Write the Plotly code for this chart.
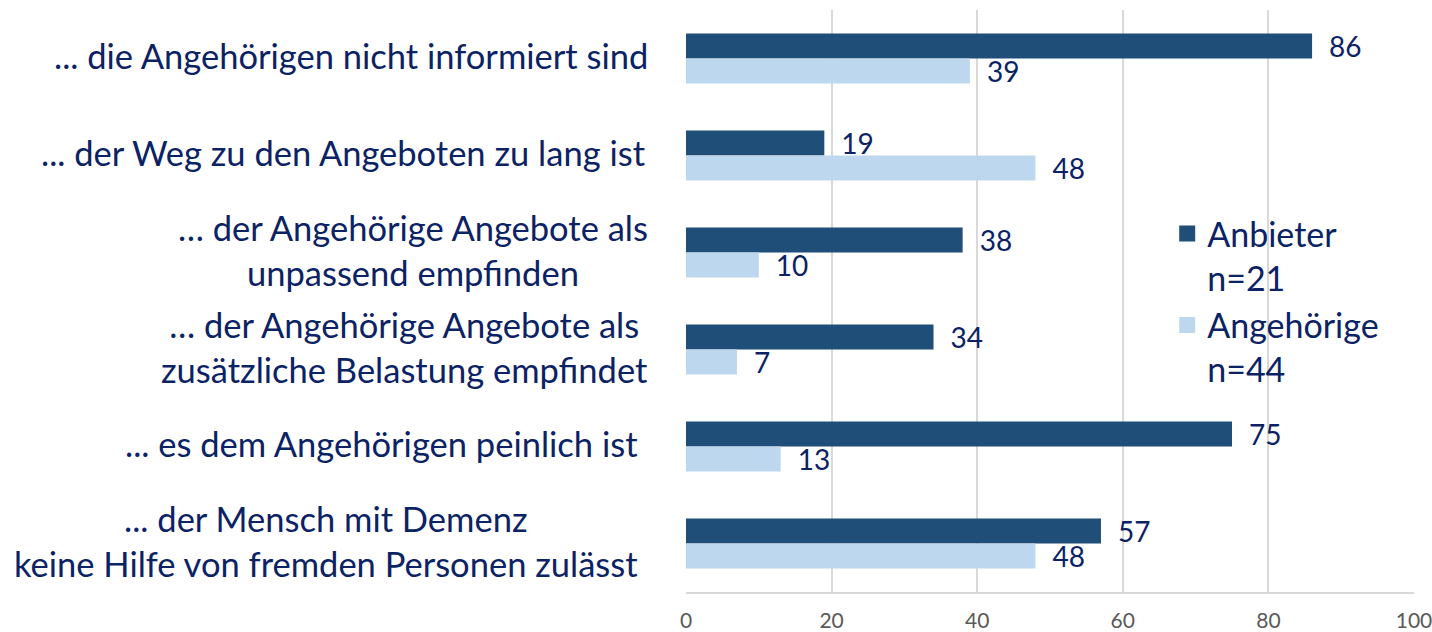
import plotly.graph_objects as go

categories = [
    "... die Angehörigen nicht informiert sind",
    "... der Weg zu den Angeboten zu lang ist",
    "… der Angehörige Angebote als unpassend empfinden",
    "… der Angehörige Angebote als zusätzliche Belastung empfindet",
    "... es dem Angehörigen peinlich ist",
    "... der Mensch mit Demenz keine Hilfe von fremden Personen zulässt",
]
label_lines = [
    ["... die Angehörigen nicht informiert sind"],
    ["... der Weg zu den Angeboten zu lang ist"],
    ["… der Angehörige Angebote als", "unpassend empfinden"],
    ["… der Angehörige Angebote als", "zusätzliche Belastung empfindet"],
    ["... es dem Angehörigen peinlich ist"],
    ["... der Mensch mit Demenz", "keine Hilfe von fremden Personen zulässt"],
]
anbieter = [86, 19, 38, 34, 75, 57]
angehoerige = [39, 48, 10, 7, 13, 48]
series_names = ["Anbieter<br>n=21", "Angehörige<br>n=44"]
tick_vals = [0, 20, 40, 60, 80, 100]

DARK = "#1F4E79"
LIGHT = "#BDD7EE"
TXT = "#0B2265"
FONT = "Lato"

fig = go.Figure()
for vals, col in [(anbieter, DARK), (angehoerige, LIGHT)]:
    fig.add_trace(go.Bar(
        y=categories, x=vals, orientation="h",
        marker=dict(color=col, line=dict(width=0)),
        texttemplate="\u2002%{x}", textposition="outside",
        textfont=dict(family=FONT, size=28, color=TXT),
        constraintext="none",
        cliponaxis=False, showlegend=False, hoverinfo="skip",
    ))
for name, col in zip(series_names, [DARK, LIGHT]):
    fig.add_trace(go.Scatter(
        x=[None], y=[None], mode="markers", name=name,
        marker=dict(symbol="square", size=16, color=col),
    ))

label_xshift = [-36, -38, -36, -36, -46, -46]
for cat, lines, xs in zip(categories, label_lines, label_xshift):
    fig.add_annotation(
        x=0, xref="paper", y=cat, yref="y", text="<br>".join(lines),
        xanchor="right", yanchor="middle", align="center", xshift=xs, yshift=3,
        showarrow=False, font=dict(family=FONT, size=34.5, color=TXT),
    )

fig.update_layout(
    width=1432, height=632, autosize=False,
    margin=dict(l=686, r=18, t=10, b=40, autoexpand=False),
    paper_bgcolor="white", plot_bgcolor="white",
    barmode="group", bargap=0.485, bargroupgap=0,
    font=dict(family=FONT, color=TXT),
    legend=dict(
        x=0.661, y=0.665, xanchor="left", yanchor="top",
        font=dict(family=FONT, size=34, color=TXT),
        valign="top", bgcolor="rgba(0,0,0,0)", tracegroupgap=0,
    ),
    xaxis=dict(
        range=[0, 100], tickvals=tick_vals, showgrid=True,
        gridcolor="#D9D9D9", gridwidth=2, zeroline=False,
        showline=True, linecolor="#D9D9D9", linewidth=2,
        tickfont=dict(family=FONT, size=21, color="#595959"),
        ticklabelstandoff=9, ticklabeloverflow="allow",
        fixedrange=True, automargin=False,
    ),
    yaxis=dict(
        autorange="reversed", showticklabels=False, showgrid=False,
        zeroline=False, showline=False, fixedrange=True, automargin=False,
    ),
)

fig.write_html("out.html")
